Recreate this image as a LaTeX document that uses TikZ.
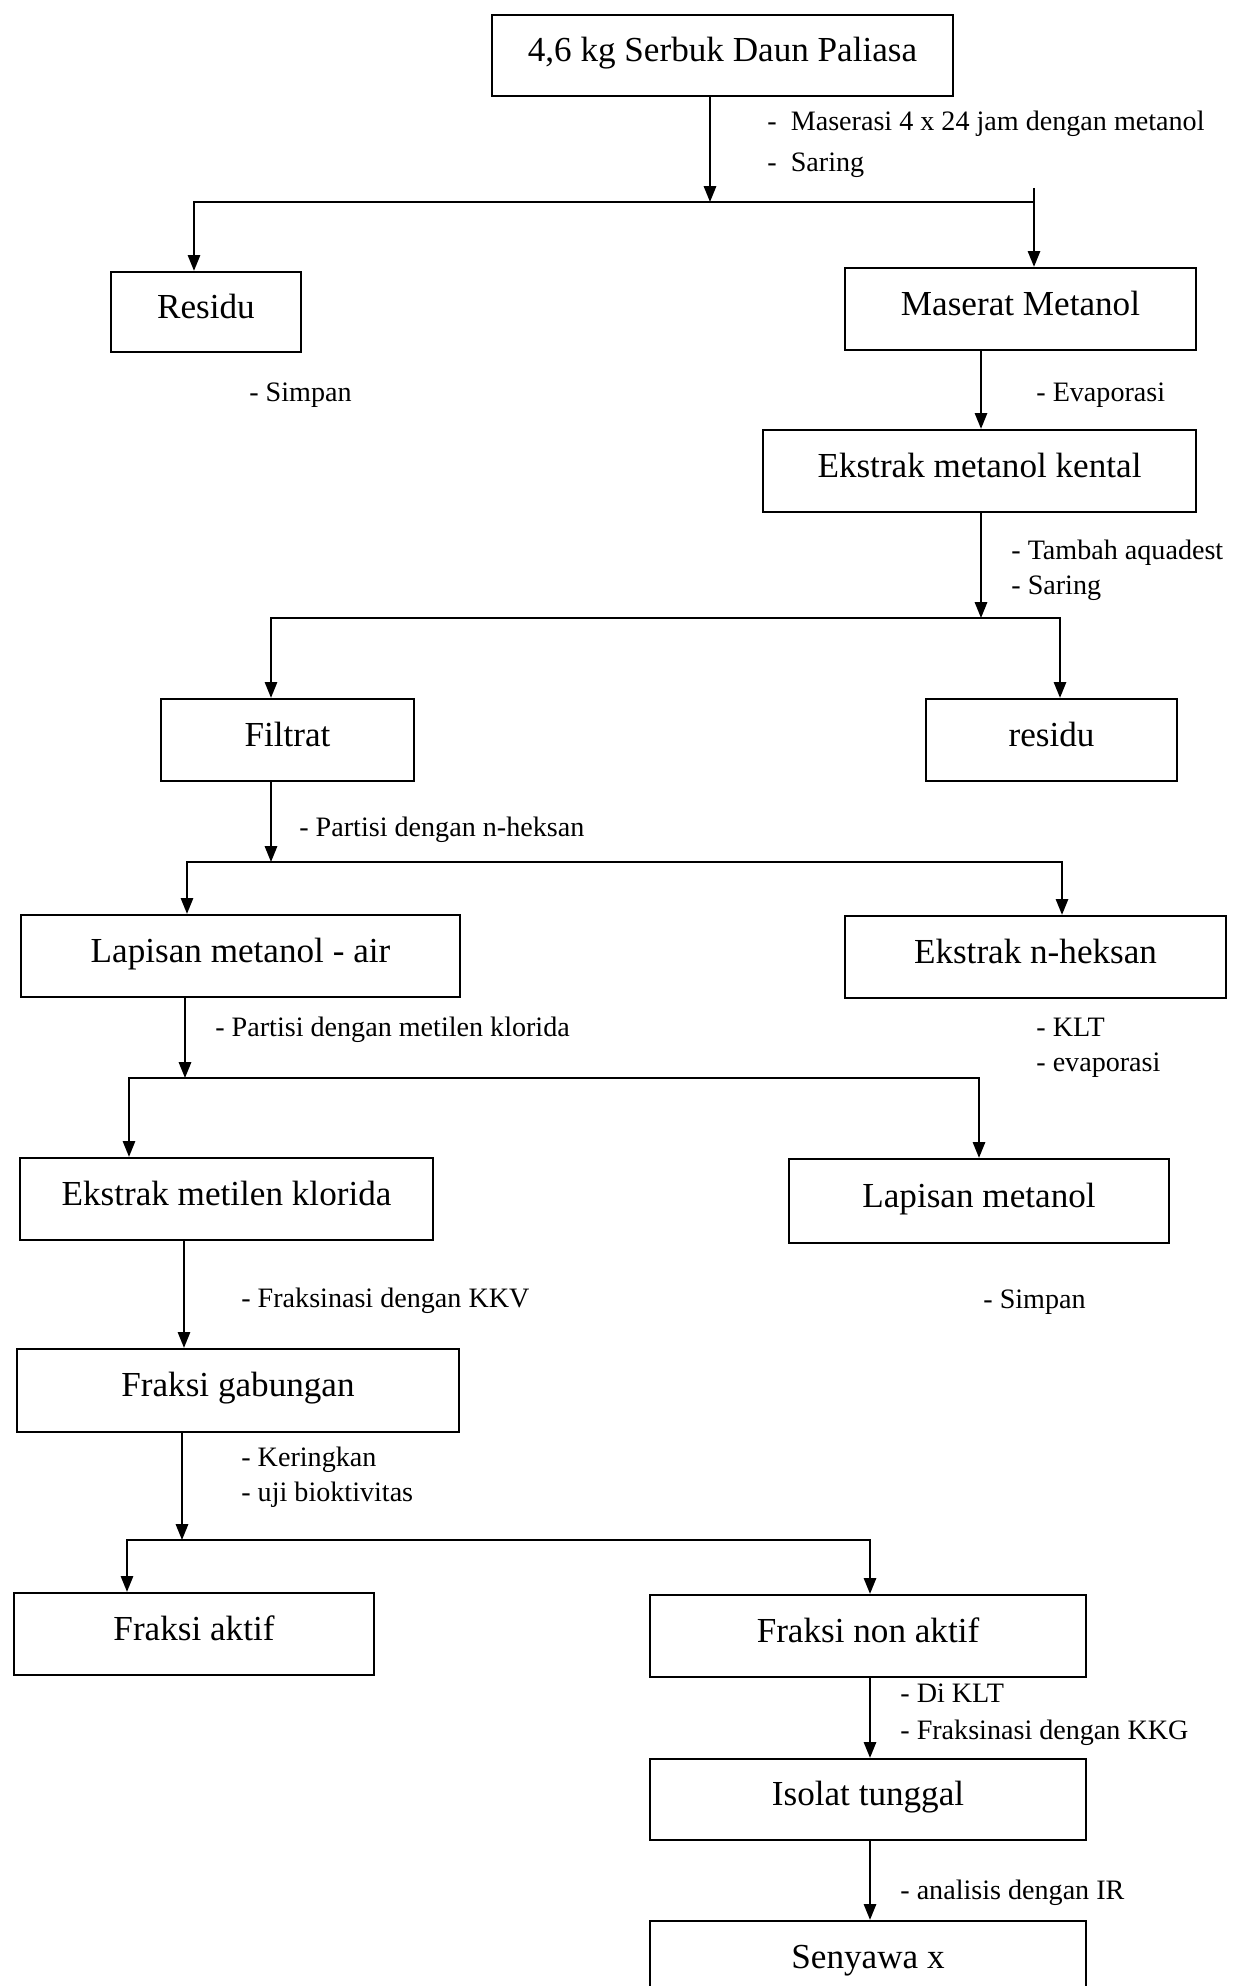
\documentclass[tikz,border=0pt]{standalone}
\usepackage{fontspec}
\setmainfont{Liberation Serif}
\usetikzlibrary{arrows.meta}
\begin{document}
\begin{tikzpicture}[x=0.02cm,y=-0.02cm,
  box/.style={draw, line width=1.3pt, inner sep=0pt, align=center, text height=13pt, text depth=6pt, font=\fontsize{20}{24}\selectfont},
  lbl/.style={anchor=base west, inner sep=0pt, font=\fontsize{16}{19}\selectfont},
  conn/.style={line width=1.1pt, line cap=rect},
  arr/.style={line width=1.1pt, -{Triangle[length=9pt,width=7pt]}}]
\useasboundingbox[fill=white] (0,0) rectangle (1240,1986);
\begin{scope}
\clip (0,0) rectangle (1240,1986);
% boxes
\node[box, minimum width=9.22cm, minimum height=1.62cm] (top) at (722.5,55.5) {4,6 kg Serbuk Daun Paliasa};
\node[box, minimum width=3.8cm, minimum height=1.6cm] (res1) at (206,312) {Residu};
\node[box, minimum width=7.02cm, minimum height=1.64cm] (mas) at (1020.5,309) {Maserat Metanol};
\node[box, minimum width=8.66cm, minimum height=1.64cm] (kental) at (979.5,471) {Ekstrak metanol kental};
\node[box, minimum width=5.06cm, minimum height=1.64cm] (filtrat) at (287.5,740) {Filtrat};
\node[box, minimum width=5.02cm, minimum height=1.64cm] (res2) at (1051.5,740) {residu};
\node[box, minimum width=8.78cm, minimum height=1.64cm] (lap) at (240.5,956) {Lapisan metanol - air};
\node[box, minimum width=7.62cm, minimum height=1.64cm] (nhek) at (1035.5,957) {Ekstrak n-heksan};
\node[box, minimum width=8.26cm, minimum height=1.64cm] (metil) at (226.5,1199) {Ekstrak metilen klorida};
\node[box, minimum width=7.6cm, minimum height=1.68cm] (lapm) at (979,1201) {Lapisan metanol};
\node[box, minimum width=8.84cm, minimum height=1.66cm] (gab) at (238,1390.5) {Fraksi gabungan};
\node[box, minimum width=7.2cm, minimum height=1.64cm] (aktif) at (194,1634) {Fraksi aktif};
\node[box, minimum width=8.72cm, minimum height=1.64cm] (nonaktif) at (868,1636) {Fraksi non aktif};
\node[box, minimum width=8.72cm, minimum height=1.62cm] (isolat) at (868,1799.5) {Isolat tunggal};
\node[box, minimum width=8.72cm, minimum height=1.64cm] (senyawa) at (868,1962) {Senyawa x};
% labels
\node[lbl] (t1a) at (767,131) {-\ \ Maserasi 4 x 24 jam dengan metanol};
\node[lbl] (t1b) at (767,172) {-\ \ Saring};
\node[lbl] (t2) at (249,402) {- Simpan};
\node[lbl] (t3) at (1036,402) {- Evaporasi};
\node[lbl] (t4a) at (1011,559) {- Tambah aquadest};
\node[lbl] (t4b) at (1011,594) {- Saring};
\node[lbl] (t5) at (299,836) {- Partisi dengan n-heksan};
\node[lbl] (t6) at (215,1036) {- Partisi dengan metilen klorida};
\node[lbl] (t7a) at (1036,1036) {- KLT};
\node[lbl] (t7b) at (1036,1071) {- evaporasi};
\node[lbl] (t8) at (241,1307) {- Fraksinasi dengan KKV};
\node[lbl] (t9) at (983,1308) {- Simpan};
\node[lbl] (t10a) at (241,1466) {- Keringkan};
\node[lbl] (t10b) at (241,1501) {- uji bioktivitas};
\node[lbl] (t11a) at (900,1702) {- Di KLT};
\node[lbl] (t11b) at (900,1739) {- Fraksinasi dengan KKG};
\node[lbl] (t12) at (900,1899) {- analisis dengan IR};
% connectors
\coordinate (b1) at (710,202);
\coordinate (l1) at (194,202);
\coordinate (r1) at (1034,202);
\coordinate (r1s) at (1034,188);
\draw[arr] (b1 |- top.south) -- (b1);
\draw[conn] (l1) -- (r1);
\draw[arr] (l1) -- (l1 |- res1.north);
\draw[arr] (r1s) -- (r1s |- mas.north);

\coordinate (c2) at (981,0);
\draw[arr] (c2 |- mas.south) -- (c2 |- kental.north);

\coordinate (b3) at (981,618);
\coordinate (l3) at (271,618);
\coordinate (r3) at (1060,618);
\draw[arr] (b3 |- kental.south) -- (b3);
\draw[conn] (l3) -- (r3);
\draw[arr] (l3) -- (l3 |- filtrat.north);
\draw[arr] (r3) -- (r3 |- res2.north);

\coordinate (b4) at (271,862);
\coordinate (l4) at (187,862);
\coordinate (r4) at (1062,862);
\draw[arr] (b4 |- filtrat.south) -- (b4);
\draw[conn] (l4) -- (r4);
\draw[arr] (l4) -- (l4 |- lap.north);
\draw[arr] (r4) -- (r4 |- nhek.north);

\coordinate (b5) at (185,1078);
\coordinate (l5) at (129,1078);
\coordinate (r5) at (979,1078);
\draw[arr] (b5 |- lap.south) -- (b5);
\draw[conn] (l5) -- (r5);
\draw[arr] (l5) -- (l5 |- metil.north);
\draw[arr] (r5) -- (r5 |- lapm.north);

\coordinate (c6) at (184,0);
\draw[arr] (c6 |- metil.south) -- (c6 |- gab.north);

\coordinate (b7) at (182,1540);
\coordinate (l7) at (127,1540);
\coordinate (r7) at (870,1540);
\draw[arr] (b7 |- gab.south) -- (b7);
\draw[conn] (l7) -- (r7);
\draw[arr] (l7) -- (l7 |- aktif.north);
\draw[arr] (r7) -- (r7 |- nonaktif.north);

\coordinate (c8) at (870,0);
\draw[arr] (c8 |- nonaktif.south) -- (c8 |- isolat.north);
\draw[arr] (c8 |- isolat.south) -- (c8 |- senyawa.north);
\end{scope}
\end{tikzpicture}
\end{document}
